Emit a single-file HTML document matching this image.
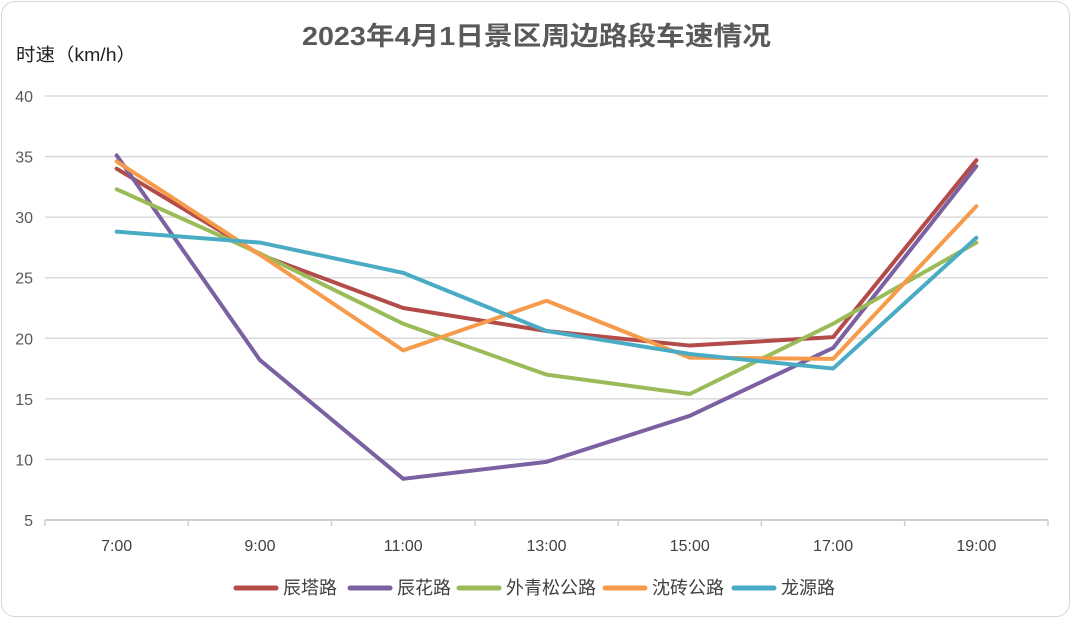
<!DOCTYPE html>
<html><head><meta charset="utf-8">
<style>
html,body{margin:0;padding:0;background:#fff;}
body{width:1072px;height:619px;overflow:hidden;font-family:"Liberation Sans","Noto Sans CJK SC",sans-serif;}
#frame{position:absolute;left:1px;top:1px;width:1067px;height:614px;border:1.5px solid #d6d6d6;border-radius:14px;}
</style></head>
<body>
<div id="frame"></div>
<svg id="chart" width="1072" height="619" style="position:absolute;left:0;top:0">
<text x="302" y="45" textLength="469" lengthAdjust="spacingAndGlyphs" font-size="26" font-weight="bold" fill="#595959" font-family="Liberation Sans, Noto Sans CJK SC, sans-serif">2023年4月1日景区周边路段车速情况</text>
<text x="16" y="61" textLength="120" lengthAdjust="spacingAndGlyphs" font-size="18" fill="#222" font-family="Liberation Sans, Noto Sans CJK SC, sans-serif">时速（km/h）</text>
<g id="grid"></g><g id="series"></g><g id="legend"></g>
</svg>
<script>
const categories=["7:00","9:00","11:00","13:00","15:00","17:00","19:00"];
const yTicks=[5,10,15,20,25,30,35,40];
const seriesNames=["辰塔路","辰花路","外青松公路","沈砖公路","龙源路"];
const seriesColors=["#b34b49","#7b61a1","#9bbb59","#f59b4b","#4aabc4"];
const chentaValues=[34.0,26.9,22.5,20.6,19.4,20.1,34.7];
const chenhuaValues=[35.1,18.2,8.4,9.8,13.6,19.2,34.2];
const waiqingsongValues=[32.3,27.0,21.2,17.0,15.4,21.2,27.9];
const shenzhuanValues=[34.6,26.9,19.0,23.1,18.4,18.3,30.9];
const longyuanValues=[28.8,27.9,25.4,20.6,18.7,17.5,28.3];
const allValues=[chentaValues,chenhuaValues,waiqingsongValues,shenzhuanValues,longyuanValues];

const NS="http://www.w3.org/2000/svg";
const plotLeft=45,plotRight=1048,plotTop=96,plotBottom=520,yMin=5,yMax=40;
const step=(plotRight-plotLeft)/categories.length;
function xPos(i){return plotLeft+step*(i+0.5);}
function yPos(v){return plotBottom-(v-yMin)/(yMax-yMin)*(plotBottom-plotTop);}
function mk(tag,attrs,parent){const e=document.createElementNS(NS,tag);for(const k in attrs)e.setAttribute(k,attrs[k]);parent.appendChild(e);return e;}
const grid=document.getElementById('grid'),ser=document.getElementById('series'),leg=document.getElementById('legend');
const fontStack="Liberation Sans, Noto Sans CJK SC, sans-serif";
yTicks.forEach(t=>{
  const l=mk('line',{x1:plotLeft,x2:plotRight,y1:yPos(t),y2:yPos(t),stroke:t===yMin?'#cfcfcf':'#d9d9d9','stroke-width':t===yMin?2:1.5},grid);
  
  
  const tx=mk('text',{x:33,y:yPos(t)+6,'text-anchor':'end','font-size':16,fill:'#595959','font-family':fontStack},grid);
  tx.textContent=t;
  
  
});
for(let i=0;i<=categories.length;i++){
  const tk=mk('line',{x1:plotLeft+step*i,x2:plotLeft+step*i,y1:plotBottom,y2:plotBottom+6,stroke:'#cfcfcf','stroke-width':1.5},grid);
  
  
}
categories.forEach((c,i)=>{
  const tx=mk('text',{x:xPos(i),y:551,'text-anchor':'middle','font-size':16,fill:'#404040','font-family':fontStack},grid);
  tx.textContent=c;
  
  
});
allValues.forEach((vals,s)=>{
  const p=mk('polyline',{points:vals.map((v,i)=>xPos(i)+','+yPos(v)).join(' '),fill:'none',stroke:seriesColors[s],'stroke-width':4,'stroke-linejoin':'round','stroke-linecap':'round'},ser);
  
  
});
const legX=[234,348,457,603,732];
seriesNames.forEach((n,s)=>{
  const g=mk('g',{},leg);
  
  
  mk('line',{x1:legX[s]+2,x2:legX[s]+42,y1:588,y2:588,stroke:seriesColors[s],'stroke-width':5,'stroke-linecap':'round'},g);
  const t=mk('text',{x:legX[s]+49,y:594,'font-size':18,fill:'#404040','font-family':fontStack},g);
  t.textContent=n;
});
</script>
</body></html>
